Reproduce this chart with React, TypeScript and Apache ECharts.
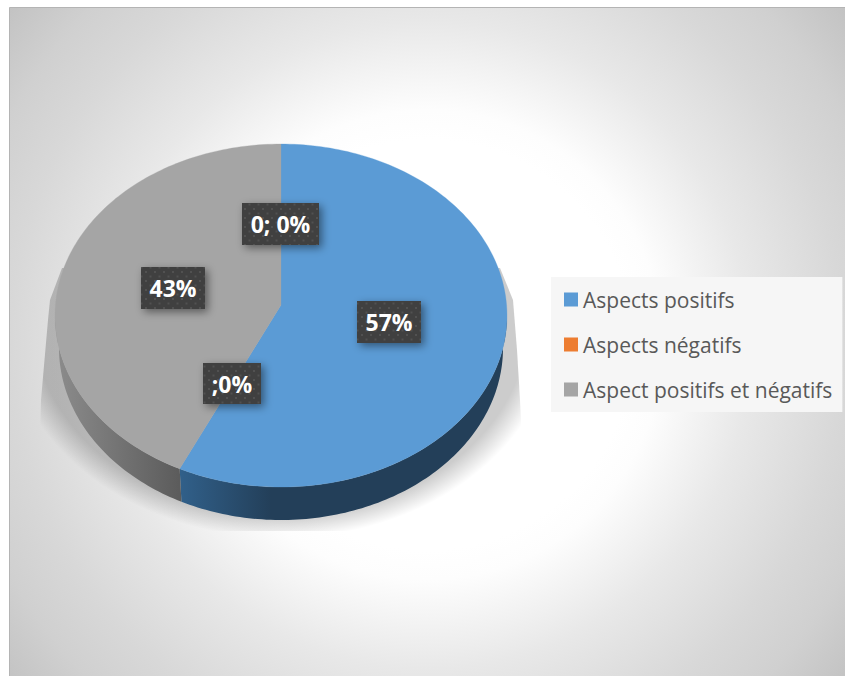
import React, { useEffect, useRef } from "react";
import * as echarts from "echarts";

const categories = ["Aspects positifs", "Aspects négatifs", "Aspect positifs et négatifs"];
const seriesValues = [57.4, 0, 42.6];
const sliceColors = ["#5b9bd5", "#ed7d31", "#a5a5a5"];
const dataLabels = ["57%", ";0%", "0; 0%", "43%"];

const FONT = '"Open Sans", sans-serif';
const CX = 281, CY = 315.5, RX = 226, RY = 171.5, APEX_Y = 305;
const LOW_CY = 348, LOW_RX = 222, LOW_RY = 172;
const LABEL_BOXES = [
  [357, 301, 64, 42],
  [203, 363, 58, 41],
  [242, 203, 77, 42],
  [141, 267, 64, 42],
];
const SHADOW_OUTLINE = [
  [500, 268], [513, 300], [517, 350], [520, 400], [522, 440], [522, 531],
  [40, 531], [40, 440], [41, 400], [48, 320], [50, 300], [62, 268],
];

const total = seriesValues.reduce((a, b) => a + b, 0);

function top(a: number): number[] {
  return [CX + RX * Math.sin(a), CY - RY * Math.cos(a)];
}
function low(a: number): number[] {
  return [CX + LOW_RX * Math.sin(a), LOW_CY - LOW_RY * Math.cos(a)];
}
function arcAngles(a0: number, a1: number): number[] {
  const n = Math.max(2, Math.ceil((a1 - a0) / 0.02));
  const out: number[] = [];
  for (let i = 0; i <= n; i++) out.push(a0 + ((a1 - a0) * i) / n);
  return out;
}

function sliceSeries(index: number) {
  return {
    type: "custom",
    name: categories[index],
    coordinateSystem: "none",
    silent: true,
    z: 3,
    itemStyle: { color: sliceColors[index] },
    data: [[seriesValues[index]]],
    renderItem: (_p: any, api: any) => {
      const v = api.value(0) as number;
      if (!v) return { type: "group", children: [] };
      const before = seriesValues.slice(0, index).reduce((a, b) => a + b, 0);
      const a0 = (before / total) * Math.PI * 2;
      const a1 = ((before + v) / total) * Math.PI * 2;
      const angles = arcAngles(a0, a1);
      const children: any[] = [];
      const w0 = Math.max(a0, Math.PI / 2);
      const w1 = Math.min(a1, (Math.PI * 3) / 2);
      if (w1 > w0) {
        const wa = arcAngles(w0, w1);
        children.push({
          type: "polygon",
          shape: { points: [...wa.map(top), ...wa.slice().reverse().map(low)] },
          style: {
            fill: {
              type: "linear",
              x: 0,
              y: 0,
              x2: 1,
              y2: 0,
              colorStops: index === 0
                ? [
                    { offset: 0, color: "#31608a" },
                    { offset: 0.28, color: "#233f59" },
                    { offset: 1, color: "#233f59" },
                  ]
                : [
                    { offset: 0, color: "#8c8c8c" },
                    { offset: 1, color: "#5b5b5b" },
                  ],
            },
          },
        });
      }
      children.push({
        type: "polygon",
        shape: { points: [[CX, APEX_Y], ...angles.map(top)] },
        style: { fill: sliceColors[index], stroke: sliceColors[index], lineWidth: 0.3 },
      });
      return { type: "group", children };
    },
  };
}

function shadowSeries() {
  const s = 218 / 275;
  const sy = 320;
  return {
    type: "custom",
    name: "shadow",
    coordinateSystem: "none",
    silent: true,
    z: 1,
    data: [[0]],
    renderItem: () => ({
      type: "polygon",
      x: 0,
      y: sy,
      scaleY: s,
      shape: { points: SHADOW_OUTLINE.map(([x, y]) => [x, (y - sy) / s]) },
      style: {
        fill: {
          type: "radial",
          x: 281,
          y: 0,
          r: 275,
          global: true,
          colorStops: [
            { offset: 0, color: "rgba(0,0,0,0.2)" },
            { offset: 0.9, color: "rgba(0,0,0,0.2)" },
            { offset: 1, color: "rgba(0,0,0,0)" },
          ],
        },
      },
    }),
  };
}

function labelSeries(dotPattern: any) {
  return {
    type: "custom",
    name: "labels",
    coordinateSystem: "none",
    silent: true,
    z: 6,
    data: dataLabels.map((t, i) => [i, t]),
    renderItem: (p: any) => {
      const i = p.dataIndex as number;
      const [x, y, w, h] = LABEL_BOXES[i];
      return {
        type: "group",
        children: [
          {
            type: "rect",
            shape: { x, y, width: w, height: h },
            style: {
              fill: "#404040",
              shadowBlur: 8,
              shadowOffsetX: 3,
              shadowOffsetY: 3,
              shadowColor: "rgba(0,0,0,0.45)",
            },
          },
          { type: "rect", shape: { x, y, width: w, height: h }, style: { fill: dotPattern } },
          {
            type: "text",
            style: {
              text: dataLabels[i],
              x: x + w / 2,
              y: y + h / 2,
              align: "center",
              verticalAlign: "middle",
              fill: "#ffffff",
              font: `700 23px ${FONT}`,
            },
          },
        ],
      };
    },
  };
}

export default function App() {
  const ref = useRef<HTMLDivElement>(null);
  useEffect(() => {
    const canvas = document.createElement("canvas");
    canvas.width = 9;
    canvas.height = 9;
    const ctx = canvas.getContext("2d")!;
    ctx.fillStyle = "rgba(255,255,255,0.09)";
    ctx.fillRect(1, 1, 2, 2);
    ctx.fillRect(5.5, 5.5, 2, 2);
    const dotPattern = { image: canvas, repeat: "repeat" };

    const chart = echarts.init(ref.current!, undefined, { renderer: "svg" });
    chart.setOption({
      animation: false,
      textStyle: { fontFamily: FONT },
      graphic: [
        {
          type: "rect",
          z: -10,
          silent: true,
          shape: { x: 9.5, y: 7.5, width: 845, height: 680 },
          style: {
            stroke: "#b4b4b4",
            lineWidth: 1,
            fill: {
              type: "radial",
              x: 427,
              y: 345,
              r: 540,
              global: true,
              colorStops: [
                { offset: 0, color: "#ffffff" },
                { offset: 0.38, color: "#ffffff" },
                { offset: 0.435, color: "#fdfdfd" },
                { offset: 0.6, color: "#e8e8e8" },
                { offset: 0.77, color: "#d8d8d8" },
                { offset: 0.88, color: "#d0d0d0" },
                { offset: 1, color: "#c2c2c2" },
              ],
            },
          },
        },
      ],
      legend: {
        data: categories,
        orient: "vertical",
        left: 551,
        top: 277,
        padding: [12, 10, 12, 13],
        backgroundColor: "#f6f6f6",
        itemWidth: 14,
        itemHeight: 14,
        itemGap: 24,
        icon: "rect",
        selectedMode: false,
        textStyle: {
          color: "#595959",
          fontFamily: FONT,
          fontSize: 21,
          lineHeight: 20,
        },
      },
      series: [
        shadowSeries(),
        sliceSeries(0),
        sliceSeries(1),
        sliceSeries(2),
        labelSeries(dotPattern),
      ],
    });
    return () => chart.dispose();
  }, []);
  return <div ref={ref} style={{ position: "absolute", left: 0, top: 0, width: 845, height: 676 }} />;
}
